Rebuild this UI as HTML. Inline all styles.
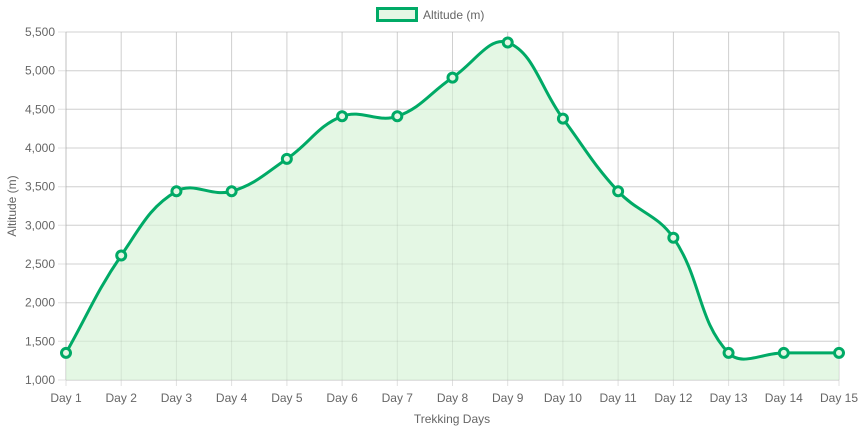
<!DOCTYPE html>
<html><head><meta charset="utf-8"><style>
html,body{margin:0;padding:0;background:#fff;width:862px;height:431px;overflow:hidden}
svg text{font-family:"Liberation Sans",Arial,sans-serif;fill:#666;font-size:12px}
</style></head><body>
<svg id="c" width="862" height="431" xmlns="http://www.w3.org/2000/svg">
<g id="grid" stroke="#e0e0e0" stroke-width="1"></g>
<path id="fill" fill="#e4f7e4" stroke="none"/>
<g id="grid2" stroke="rgba(0,0,0,0.07)" stroke-width="1"></g>
<path id="line" fill="none" stroke="#00aa66" stroke-width="3"/>
<g id="pts"></g>
<g id="labels"></g>
<rect x="377.5" y="8.5" width="39" height="12" fill="#e4f7e4" stroke="#00aa66" stroke-width="3"/>
<text x="423" y="19">Altitude (m)</text>
<text x="452" y="423" text-anchor="middle">Trekking Days</text>
<text transform="translate(16,206) rotate(-90)" text-anchor="middle">Altitude (m)</text>
</svg>
<script>
(function(){
var data=[1350,2610,3440,3440,3860,4410,4410,4910,5364,4380,3440,2840,1350,1350,1350];
var x0=66,x1=839,yTop=32,bot=380;
function X(i){return x0+i*(x1-x0)/14}
function Y(v){return bot-(v-1000)/4500*(bot-yTop)}
var g=document.getElementById('grid'),l=document.getElementById('labels'),s='',t='',s2='';
for(var i=0;i<15;i++){var x=X(i).toFixed(1);s+='<line x1="'+x+'" y1="'+yTop+'" x2="'+x+'" y2="386"/>';s2+='<line x1="'+x+'" y1="'+yTop+'" x2="'+x+'" y2="380"/>';
t+='<text x="'+x+'" y="402" text-anchor="middle">Day '+(i+1)+'</text>';}
for(var v=1000;v<=5500;v+=500){var y=Y(v).toFixed(1);s+='<line x1="58" y1="'+y+'" x2="'+x1+'" y2="'+y+'"/>';s2+='<line x1="66" y1="'+y+'" x2="'+x1+'" y2="'+y+'"/>';
t+='<text x="55" y="'+(Y(v)+4)+'" text-anchor="end">'+v.toLocaleString('en-US')+'</text>';}
s+='<line x1="66" y1="380" x2="839" y2="380" stroke="#d0d0d0"/><line x1="66" y1="32" x2="66" y2="380" stroke="#d0d0d0"/>';
g.innerHTML=s;l.innerHTML=t;document.getElementById('grid2').innerHTML=s2;
var p=data.map(function(v,i){return [X(i),Y(v)]});
var cps=[];
for(var i=0;i<p.length;i++){var a=p[Math.max(i-1,0)],b=p[i],c=p[Math.min(i+1,p.length-1)];
var d01=Math.hypot(b[0]-a[0],b[1]-a[1]),d12=Math.hypot(c[0]-b[0],c[1]-b[1]);
var fa=d01/(d01+d12)||0,fb=d12/(d01+d12)||0;fa*=0.4;fb*=0.4;
cps.push({p:[b[0]-fa*(c[0]-a[0]),Math.min(bot,Math.max(yTop,b[1]-fa*(c[1]-a[1])))],n:[b[0]+fb*(c[0]-a[0]),Math.min(bot,Math.max(yTop,b[1]+fb*(c[1]-a[1])))]});}
var d='M'+p[0][0]+','+p[0][1];
for(var i=1;i<p.length;i++){d+=' C'+cps[i-1].n[0]+','+cps[i-1].n[1]+' '+cps[i].p[0]+','+cps[i].p[1]+' '+p[i][0]+','+p[i][1];}
document.getElementById('line').setAttribute('d',d);
document.getElementById('fill').setAttribute('d',d+' L'+x1+','+bot+' L'+x0+','+bot+' Z');
var ps='';p.forEach(function(q){ps+='<circle cx="'+q[0]+'" cy="'+q[1]+'" r="4.5" fill="#e4f7e4" stroke="#00aa66" stroke-width="3"/>'});
document.getElementById('pts').innerHTML=ps;
})();
</script>
</body></html>
